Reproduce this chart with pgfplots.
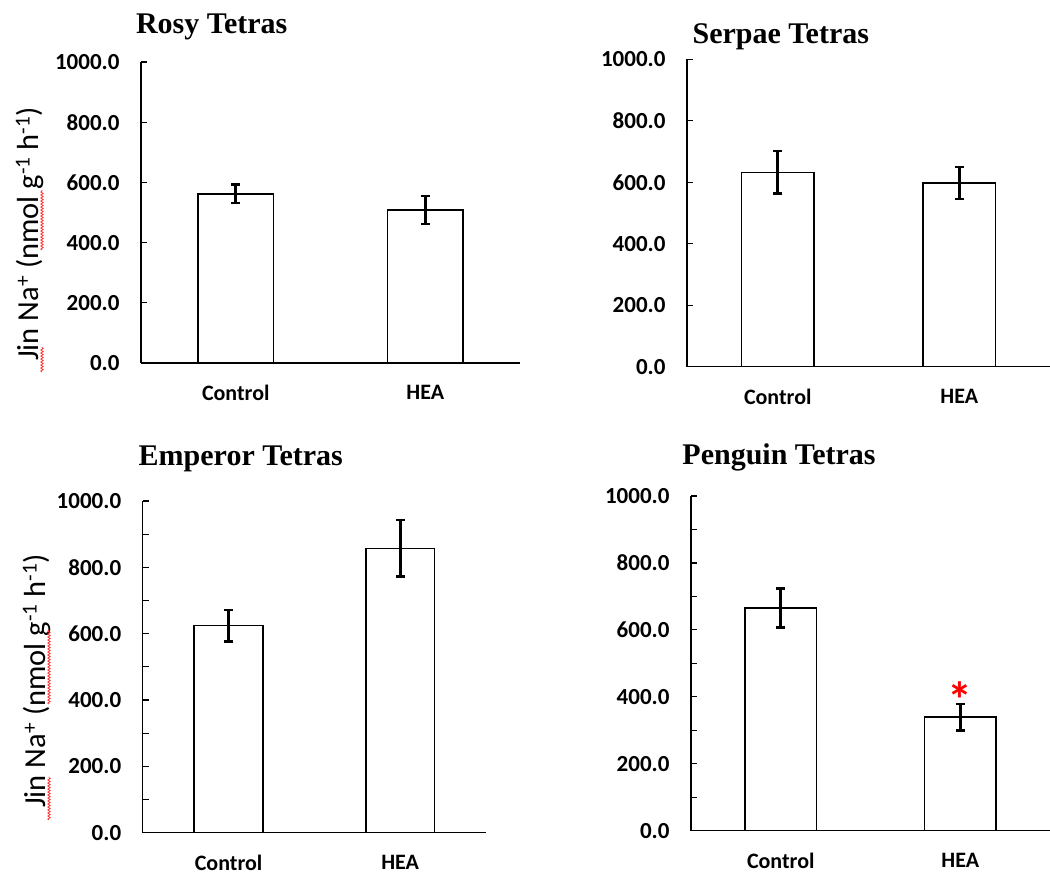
\documentclass[border=0pt]{standalone}
\usepackage{pgfplots}
\pgfplotsset{compat=1.18}
\usetikzlibrary{decorations.pathmorphing}
\usepackage{fontspec}
\setmainfont{Carlito}
\newfontfamily\titlefont{Liberation Serif}
\pgfplotsset{
  panel/.style={
    scale only axis,
    xmin=-0.5, xmax=1.5, ymin=0, ymax=1000,
    axis x line=bottom, axis y line=left,
    axis line style={line width=1.5pt,-},
    xtick={0,1}, xticklabels={Control,HEA},
    major x tick style={draw=none},
    ytick={0,200,...,1000},
    tick align=inside,
    major tick length=6pt, minor tick length=6pt,
    tick style={line width=1.2pt, black},
    /pgf/number format/assume math mode=true,
    /pgf/number format/fixed, /pgf/number format/precision=1,
    /pgf/number format/fixed zerofill, /pgf/number format/1000 sep={},
    yticklabel style={font=\fontsize{23}{24}\selectfont\bfseries, xshift=-18pt},
    xticklabel style={font=\fontsize{22}{24}\selectfont\bfseries, yshift=-19pt},
  },
  mybar/.style={ybar, fill=white, draw=black, line width=1.5pt, bar width=0.4,
    error bars/.cd, y dir=both, y explicit,
    error bar style={line width=3pt},
    error mark options={rotate=90, mark size=4.5pt, line width=2.5pt}},
}
\tikzset{wave/.style={red!80!white, line width=0.8pt, decorate, decoration={snake, amplitude=1.2pt, segment length=3pt}}}
\begin{document}
\begin{tikzpicture}[x=1pt,y=1pt]
\useasboundingbox (0,0) rectangle (1050,877);
% Rosy
\begin{axis}[panel, at={(141pt,514pt)}, anchor=south west, width=379pt, height=301pt]
\addplot[mybar] coordinates {(0,562) +- (0,31) (1,508) +- (0,47)};
\end{axis}
% Serpae
\begin{axis}[panel, at={(687pt,510.3pt)}, anchor=south west, width=363pt, height=307.4pt]
\addplot[mybar] coordinates {(0,632) +- (0,69) (1,598) +- (0,52)};
\end{axis}
% Emperor
\begin{axis}[panel, at={(142.7pt,44.3pt)}, anchor=south west, width=343.3pt, height=331.7pt, minor y tick num=1]
\addplot[mybar] coordinates {(0,624) +- (0,48) (1,857) +- (0,85)};
\end{axis}
% Penguin
\begin{axis}[panel, at={(691pt,46.3pt)}, anchor=south west, width=359pt, height=334.7pt, minor y tick num=1, clip=false]
\addplot[mybar] coordinates {(0,665) +- (0,58) (1,339) +- (0,40)};
\node[text=red, font=\fontsize{50}{50}\selectfont\bfseries, inner sep=0pt] at (axis cs:1,392) {*};
\end{axis}
% titles
\node[font=\titlefont\fontsize{30}{32}\selectfont\bfseries] at (211.7,850) {Rosy Tetras};
\node[font=\titlefont\fontsize{30}{32}\selectfont\bfseries] at (780.8,840) {Serpae Tetras};
\node[font=\titlefont\fontsize{30}{32}\selectfont\bfseries] at (240.8,418) {Emperor Tetras};
\node[font=\titlefont\fontsize{30}{32}\selectfont\bfseries] at (779,420) {Penguin Tetras};
% y labels
\node[rotate=90, font=\fontsize{30.5}{32}\selectfont] at (30,643) {Jin Na\textsuperscript{+} (nmol g\textsuperscript{-1} h\textsuperscript{-1})};
\node[rotate=90, font=\fontsize{30.5}{32}\selectfont] at (37,196) {Jin Na\textsuperscript{+} (nmol g\textsuperscript{-1} h\textsuperscript{-1})};
% spell-check underlines
\draw[wave] (42,877-372) -- (42,877-347);
\draw[wave] (42,877-250) -- (42,877-190);
\draw[wave] (49,877-820) -- (49,877-777);
\draw[wave] (49,877-704) -- (49,877-630);
\end{tikzpicture}
\end{document}
